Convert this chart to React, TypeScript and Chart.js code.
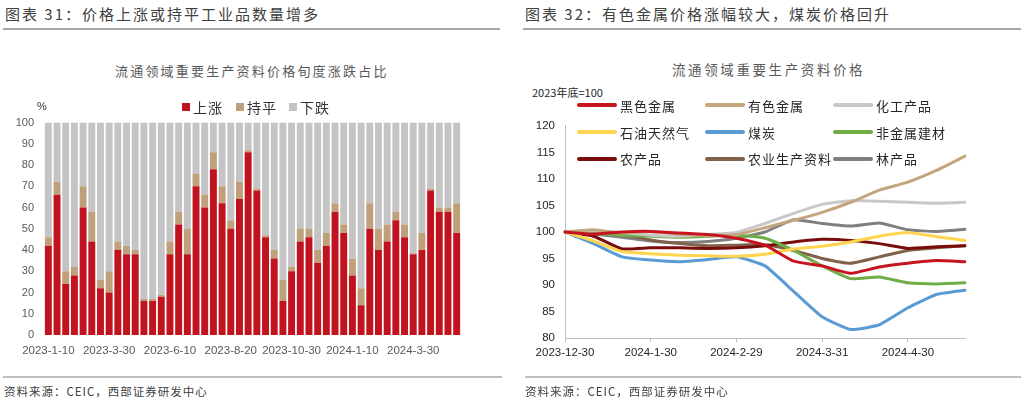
import React, { useEffect, useRef } from 'react';
import { Chart, registerables } from 'chart.js';
Chart.register(...registerables);

// ---------- Left chart data (figure 31) ----------
const barTickLabels = ['2023-1-10', '2023-3-30', '2023-6-10', '2023-8-20', '2023-10-30', '2024-1-10', '2024-3-30'];
const barTickEvery = 7;
const barSeriesNames = ['上涨', '持平', '下跌'];
const barColors = ['#C1121F', '#BFA07A', '#C4C4C4'];
const upShare = [42, 66, 24, 28, 60, 44, 22, 20, 40, 38, 38, 16, 16, 18, 38, 52, 38, 70, 60, 78, 62, 50, 64, 86, 68, 46, 36, 16, 30, 44, 46, 34, 42, 58, 48, 28, 14, 50, 40, 44, 54, 46, 38, 40, 68, 58, 58, 48];
const flatShare = [4, 6, 6, 4, 10, 14, 4, 10, 4, 4, 2, 1, 1, 1, 6, 6, 12, 6, 6, 8, 8, 4, 8, 1, 1, 1, 4, 10, 2, 6, 4, 6, 6, 4, 4, 8, 8, 12, 10, 8, 4, 6, 0.5, 8, 1, 2, 2, 14];
const downShare = [54, 28, 70, 68, 30, 42, 74, 70, 56, 58, 60, 83, 83, 81, 56, 42, 50, 24, 34, 14, 30, 46, 28, 13, 31, 53, 60, 74, 68, 50, 50, 60, 52, 38, 48, 64, 78, 38, 50, 48, 42, 48, 61.5, 52, 31, 40, 40, 38];

// ---------- Right chart data (figure 32) ----------
const lineCategories = ['2023-12-30', '2024-1-10', '2024-1-20', '2024-1-30', '2024-2-10', '2024-2-20', '2024-2-29', '2024-3-10', '2024-3-20', '2024-3-31', '2024-4-10', '2024-4-20', '2024-4-30', '2024-5-10', '2024-5-20'];
const lineTickEvery = 3;
const ferrousMetals = [100, 99.6, 100, 100.1, 99.8, 99.5, 98.8, 97.5, 94.5, 93.6, 92.2, 93.4, 94.1, 94.6, 94.4];
const nonferrousMetals = [100, 100.4, 99.8, 100.1, 99.6, 99.3, 99.5, 100.8, 102.2, 103.7, 105.6, 107.9, 109.4, 111.6, 114.3];
const chemicals = [100, 100.2, 99.9, 99.4, 99.2, 99.5, 99.9, 101.6, 103.5, 105.2, 105.9, 105.8, 105.6, 105.4, 105.6];
const oilGas = [100, 98.3, 96.3, 95.9, 95.6, 95.5, 95.4, 95.8, 96.8, 97.3, 98.1, 99.2, 99.9, 99.1, 98.4];
const coal = [100, 97.8, 95.3, 94.7, 94.4, 94.8, 95.3, 93.6, 88.8, 84.0, 81.6, 82.5, 85.7, 88.2, 89.0];
const nonMetalBuilding = [100, 99.7, 99.4, 99.2, 99.0, 99.2, 99.4, 98.8, 96.5, 93.6, 91.2, 91.5, 90.4, 90.2, 90.4];
const farmProducts = [100, 99.2, 96.8, 97.0, 97.0, 96.9, 97.0, 97.4, 98.1, 98.6, 98.4, 97.8, 96.9, 97.2, 97.4];
const farmInputs = [100, 100.2, 99.6, 98.5, 97.8, 97.4, 97.5, 97.6, 96.5, 95.0, 94.1, 95.3, 96.5, 97.0, 97.4];
const forestProducts = [100, 99.6, 99.0, 98.3, 98.0, 98.2, 98.8, 100.0, 102.3, 101.6, 101.1, 101.7, 100.4, 100.1, 100.5];
const lineNames = ['黑色金属', '有色金属', '化工产品', '石油天然气', '煤炭', '非金属建材', '农产品', '农业生产资料', '林产品'];
const lineColors = ['#C8141E', '#C4A67E', '#C8C8C8', '#FFD54F', '#5B9BD5', '#70AD47', '#7A0C0C', '#7F6249', '#7F7F7F'];
const lineSeries = [ferrousMetals, nonferrousMetals, chemicals, oilGas, coal, nonMetalBuilding, farmProducts, farmInputs, forestProducts];

const CJK = "'Noto Sans CJK SC', 'Noto Sans', sans-serif";
const LATIN = "'Liberation Sans', Arial, sans-serif";

function Txt(props: { x: number; y: number; size: number; color?: string; ls?: number; font?: string; children: React.ReactNode }) {
  return (
    <div
      style={{
        position: 'absolute',
        left: props.x,
        top: props.y - props.size / 2,
        fontSize: props.size,
        lineHeight: `${props.size}px`,
        color: props.color || '#333',
        letterSpacing: props.ls || 0,
        fontFamily: props.font || CJK,
        whiteSpace: 'nowrap',
      }}
    >
      {props.children}
    </div>
  );
}

function Rule(props: { x: number; y: number; w: number; h: number; color: string }) {
  return <div style={{ position: 'absolute', left: props.x, top: props.y, width: props.w, height: props.h, background: props.color }} />;
}

export default function App() {
  const leftRef = useRef<HTMLCanvasElement>(null);
  const rightRef = useRef<HTMLCanvasElement>(null);

  useEffect(() => {
    const barCats = upShare.map((_, i) => (i % barTickEvery === 0 ? barTickLabels[i / barTickEvery] : ''));
    const barData = [upShare, flatShare, downShare];
    const left = new Chart(leftRef.current!, {
      type: 'bar',
      data: {
        labels: barCats,
        datasets: barSeriesNames.map((n, k) => ({
          label: n,
          data: barData[k],
          backgroundColor: barColors[k],
          borderWidth: 0,
          barPercentage: 0.8,
          categoryPercentage: 1,
        })),
      },
      options: {
        responsive: false,
        animation: false,
        layout: { padding: { top: 0, right: 14, left: 0, bottom: 0 } },
        plugins: { legend: { display: false }, tooltip: { enabled: false } },
        scales: {
          x: {
            stacked: true,
            grid: { display: false, drawTicks: false },
            border: { display: false },
            ticks: {
              autoSkip: false,
              maxRotation: 0,
              padding: 9,
              color: '#595959',
              font: { family: LATIN, size: 11.5 },
            },
            afterFit: (s: any) => { s.height = 33; },
          },
          y: {
            stacked: true,
            min: 0,
            max: 100,
            grid: { display: false, drawTicks: false },
            border: { display: false },
            ticks: { stepSize: 10, padding: 10, color: '#595959', font: { family: LATIN, size: 11 } },
            afterFit: (s: any) => { s.width = 44; },
          },
        },
      },
    });

    const right = new Chart(rightRef.current!, {
      type: 'line',
      data: {
        labels: lineCategories,
        datasets: lineNames.map((n, k) => ({
          label: n,
          data: lineSeries[k],
          borderColor: lineColors[k],
          backgroundColor: lineColors[k],
          borderWidth: 3,
          pointRadius: 0,
          tension: 0.15,
          borderCapStyle: 'round' as const,
          borderJoinStyle: 'round' as const,
        })),
      },
      options: {
        responsive: false,
        animation: false,
        layout: { padding: { top: 0, right: 17, left: 0, bottom: 0 } },
        plugins: { legend: { display: false }, tooltip: { enabled: false } },
        scales: {
          x: {
            grid: {
              drawOnChartArea: false,
              drawTicks: true,
              tickLength: 4,
              color: (ctx: any) => (ctx.index % lineTickEvery === 0 ? '#BFBFBF' : 'rgba(0,0,0,0)'),
            },
            border: { display: true, color: '#BFBFBF', width: 1 },
            ticks: {
              autoSkip: false,
              maxRotation: 0,
              padding: 4,
              color: '#262626',
              font: { family: LATIN, size: 11.5 },
              callback: (_v: any, i: number) => (i % lineTickEvery === 0 ? lineCategories[i] : ''),
            },
            afterFit: (s: any) => { s.height = 40; },
          },
          y: {
            min: 80,
            max: 120,
            grid: { drawOnChartArea: false, drawTicks: false },
            border: { display: true, color: '#BFBFBF', width: 1 },
            ticks: { stepSize: 5, padding: 10, color: '#262626', font: { family: LATIN, size: 11.5 } },
            afterFit: (s: any) => { s.width = 53; },
          },
        },
      },
    });

    return () => {
      left.destroy();
      right.destroy();
    };
  }, []);

  const legendCols = [577, 705, 833];
  const legendRows = [105, 132, 158.5];

  return (
    <div style={{ position: 'absolute', left: 0, top: 0, width: 1024, height: 403, background: '#fff', overflow: 'hidden' }}>
      {/* Left panel */}
      <Txt x={5} y={13} size={15} color="#404040" ls={2}>图表 31：价格上涨或持平工业品数量增多</Txt>
      <Rule x={3} y={28} w={497} h={2} color="#A6A6A6" />
      <Txt x={115} y={70} size={13} color="#595959" ls={2.2}>流通领域重要生产资料价格旬度涨跌占比</Txt>
      <canvas ref={leftRef} width={475} height={262} style={{ position: 'absolute', left: 0, top: 106, width: 475, height: 262 }} />
      <Txt x={37} y={106} size={11} color="#333" font={LATIN}>%</Txt>
      {barSeriesNames.map((n, k) => {
        const x0 = [182, 236, 289][k];
        return (
          <React.Fragment key={n}>
            <div style={{ position: 'absolute', left: x0, top: 103, width: 8, height: 8, background: barColors[k] }} />
            <Txt x={x0 + 11} y={107} size={14} color="#333" ls={1}>{n}</Txt>
          </React.Fragment>
        );
      })}
      <Rule x={3} y={376} w={499} h={2} color="#BFBFBF" />
      <Txt x={4} y={392} size={11.5} color="#404040" ls={1}>资料来源：CEIC，西部证券研发中心</Txt>

      {/* Right panel */}
      <Txt x={525} y={13} size={15} color="#404040" ls={2}>图表 32：有色金属价格涨幅较大，煤炭价格回升</Txt>
      <Rule x={523} y={28} w={498} h={2} color="#A6A6A6" />
      <Txt x={672} y={70} size={13.5} color="#595959" ls={2.6}>流通领域重要生产资料价格</Txt>
      <canvas ref={rightRef} width={470} height={269} style={{ position: 'absolute', left: 512, top: 109, width: 470, height: 269 }} />
      <Txt x={532} y={92} size={11} color="#262626">2023年底=100</Txt>
      {lineNames.map((n, k) => {
        const x0 = legendCols[k % 3];
        const y0 = legendRows[Math.floor(k / 3)];
        return (
          <React.Fragment key={n}>
            <div style={{ position: 'absolute', left: x0, top: y0 - 2, width: 40, height: 4, borderRadius: 2, background: lineColors[k] }} />
            <Txt x={x0 + 43} y={y0} size={13} color="#262626" ls={1}>{n}</Txt>
          </React.Fragment>
        );
      })}
      <Rule x={525} y={376} w={496} h={2} color="#BFBFBF" />
      <Txt x={525} y={392} size={11.5} color="#404040" ls={1}>资料来源：CEIC，西部证券研发中心</Txt>
    </div>
  );
}
